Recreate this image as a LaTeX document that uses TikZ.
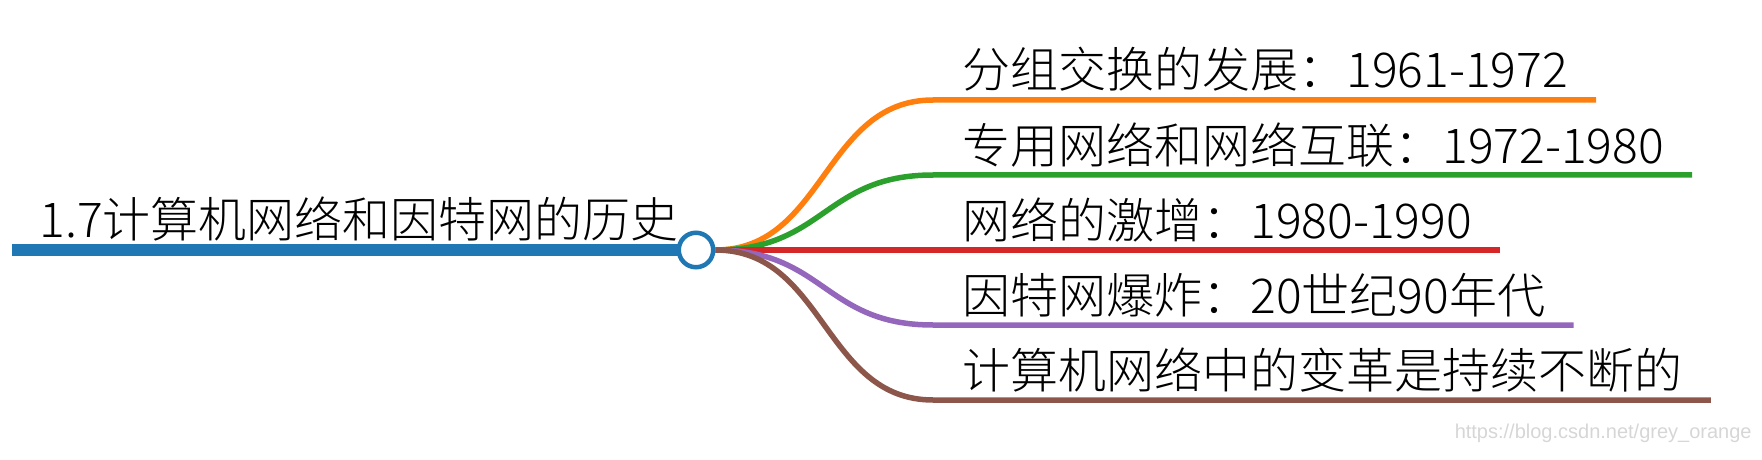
\documentclass[tikz,border=0pt]{standalone}
\usepackage{fontspec}
\usepackage{xcolor}
\usepackage{tikz}
\newfontfamily\cjk{Noto Sans CJK SC Light}
\newfontfamily\markfont{Liberation Sans}
\definecolor{mapblue}{HTML}{1F77B4}
\definecolor{maporange}{HTML}{FF7F0E}
\definecolor{mapgreen}{HTML}{2CA02C}
\definecolor{mapred}{HTML}{D62728}
\definecolor{mappurple}{HTML}{9467BD}
\definecolor{mapbrown}{HTML}{8C564B}
\tikzset{
    topic/.style={font=\cjk\fontsize{24}{28}\selectfont, inner sep=0pt, anchor=base west},
    branch/.style={draw, line width=2.75pt},
    hub/.style={circle, draw=mapblue, fill=white, line width=2.25pt, inner sep=0pt, minimum size=17.25pt}
}

\begin{document}
\begin{tikzpicture}[x=0.5pt, y=-0.5pt]
    \useasboundingbox (0,0) rectangle (1762,460);

    \coordinate (start) at (12,250);
    \node[topic] (root) at (39,237) {1.7计算机网络和因特网的历史};
    \draw[branch, mapblue, line width=5.75pt] (start) -- (696,250) coordinate (knot);
    \node[hub] (centre) at (knot) {};

    \node[topic] (packet) at (962,88) {分组交换的发展：1961-1972};
    \node[topic] (private) at (962,163) {专用网络和网络互联：1972-1980};
    \node[topic] (boom) at (962,238) {网络的激增：1980-1990};
    \node[topic] (explode) at (962,313) {因特网爆炸：20世纪90年代};
    \node[topic] (change) at (962,388) {计算机网络中的变革是持续不断的};

    \coordinate (k1) at (933,100);
    \coordinate (k2) at (933,175);
    \coordinate (k3) at (933,250);
    \coordinate (k4) at (933,325);
    \coordinate (k5) at (933,400);

    \draw[branch, maporange] (centre.east) .. controls +(109,0) and +(-109,0) .. (k1) -- (packet.east |- k1) -- ++(28,0);
    \draw[branch, mapgreen] (centre.east) .. controls +(109,0) and +(-109,0) .. (k2) -- (private.east |- k2) -- ++(28,0);
    \draw[branch, mapred] (centre.east) -- (k3) -- (boom.east |- k3) -- ++(28,0);
    \draw[branch, mappurple] (centre.east) .. controls +(109,0) and +(-109,0) .. (k4) -- (explode.east |- k4) -- ++(28,0);
    \draw[branch, mapbrown] (centre.east) .. controls +(109,0) and +(-109,0) .. (k5) -- (change.east |- k5) -- ++(28,0);

    \node[font=\markfont\fontsize{10}{12}\selectfont, text=black!16, anchor=east, inner sep=0pt] (mark) at (1752,433) {https://blog.csdn.net/grey\_orange};
\end{tikzpicture}
\end{document}
